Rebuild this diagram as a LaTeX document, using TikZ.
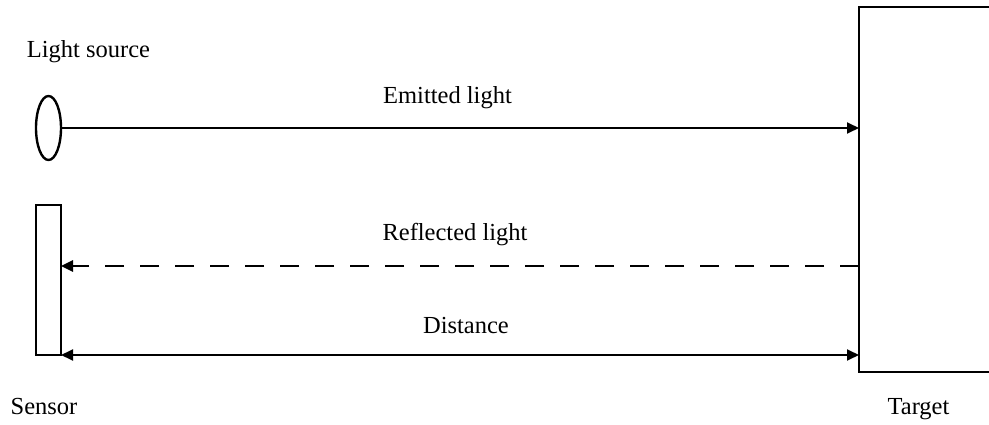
\documentclass[tikz,border=0pt]{standalone}
\usepackage{fontspec}
\setmainfont{Liberation Serif}
\usetikzlibrary{arrows.meta,shapes.geometric}
\begin{document}
\begin{tikzpicture}[x=1pt,y=-1pt,
  lbl/.style={font=\fontsize{24.5}{28}\selectfont, inner sep=0pt},
  thin line/.style={line width=1.8pt},
  tip/.style={-{Triangle[length=12pt,width=11pt]}},
  both tips/.style={{Triangle[length=12pt,width=11pt]}-{Triangle[length=12pt,width=11pt]}}]
\useasboundingbox (0,0) rectangle (989,425);
% target
\draw[line width=2.6pt] (1000,7) -- (859,7) -- (859,372) -- (1000,372);
\coordinate (tgtE) at (859,128);
\coordinate (tgtR) at (859,266);
\coordinate (tgtD) at (859,355);
% light source
\node[draw, line width=2.4pt, ellipse, minimum width=25pt, minimum height=64pt, inner sep=0pt] (src) at (48.5,128) {};
% sensor
\node[draw, line width=2.4pt, rectangle, minimum width=25pt, minimum height=150pt, inner sep=0pt] (sen) at (48.5,280) {};
\coordinate (senR) at (61,266);
\coordinate (senD) at (61,355);
% arrows
\draw[thin line, tip] (src.east) -- (tgtE);
\draw[line width=2.6pt, dash pattern=on 19pt off 16pt, tip] (tgtR) -- (senR);
\draw[thin line, both tips] (senD) -- (tgtD);
% labels
\node[lbl] (lsrc) at (88.5,52) {Light source};
\node[lbl] (lemit) at (447.5,98) {Emitted light};
\node[lbl] (lrefl) at (455,235) {Reflected light};
\node[lbl] (ldist) at (466,326) {Distance};
\node[lbl] (lsen) at (44,407) {Sensor};
\node[lbl] (ltgt) at (918.5,409) {Target};
\end{tikzpicture}
\end{document}
